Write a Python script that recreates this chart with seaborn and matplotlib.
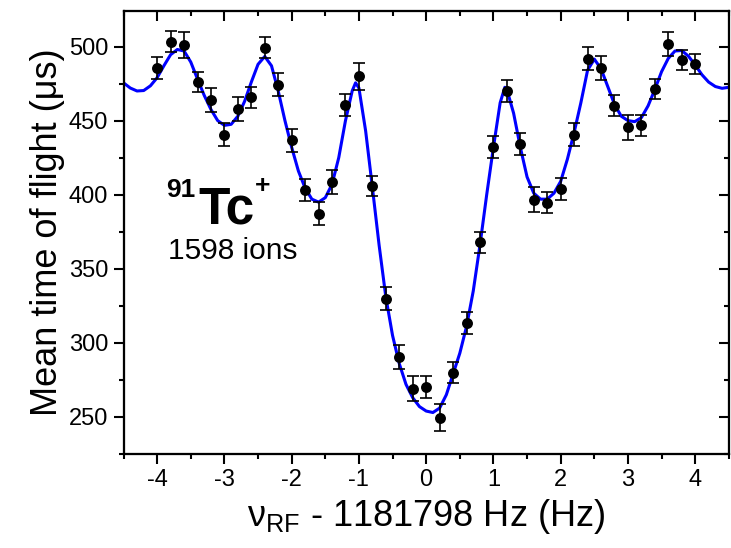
import numpy as np
import pandas as pd
import matplotlib
matplotlib.use('Agg')
import matplotlib.pyplot as plt
from matplotlib.ticker import MultipleLocator
import seaborn as sns

sns.set_style('ticks')
plt.rcParams['font.family'] = ['Liberation Sans', 'DejaVu Sans']
plt.rcParams['mathtext.fontset'] = 'custom'
plt.rcParams['mathtext.rm'] = 'Liberation Sans'
plt.rcParams['mathtext.bf'] = 'Liberation Sans:bold'
plt.rcParams['axes.unicode_minus'] = False
for k in ['text.color', 'axes.labelcolor', 'xtick.color', 'ytick.color', 'axes.edgecolor']:
    plt.rcParams[k] = 'black'

# measured data (frequency offset in Hz, mean TOF in us, error)
freq = [-4.0, -3.8, -3.6, -3.4, -3.2, -3.0, -2.8, -2.6, -2.4, -2.2,
        -2.0, -1.8, -1.6, -1.4, -1.2, -1.0, -0.8, -0.6, -0.4, -0.2,
        0.0, 0.2, 0.4, 0.6, 0.8, 1.0, 1.2, 1.4, 1.6, 1.8,
        2.0, 2.2, 2.4, 2.6, 2.8, 3.0, 3.2, 3.4, 3.6, 3.8, 4.0]
tof = [485.4, 503.2, 501.1, 476.2, 463.9, 440.5, 458.0, 465.6, 499.3, 474.2,
       436.7, 403.4, 387.3, 408.6, 460.5, 479.8, 405.7, 329.8, 290.7, 269.0,
       270.3, 249.6, 279.9, 313.6, 367.9, 432.2, 470.1, 434.4, 396.7, 394.5,
       404.1, 440.5, 491.7, 485.4, 460.1, 445.4, 446.8, 471.3, 501.8, 491.0, 488.3]
tof_err = [7.5, 7.2, 8.8, 6.7, 8.0, 7.6, 8.0, 7.0, 7.0, 7.9,
           7.9, 7.4, 7.5, 8.4, 7.3, 9.0, 6.7, 7.9, 8.2, 8.4,
           7.5, 9.0, 7.0, 7.5, 7.1, 7.1, 7.5, 7.3, 8.4, 7.0,
           7.5, 7.9, 7.7, 8.1, 7.2, 8.3, 7.0, 7.0, 8.2, 6.7, 6.9]

# fit curve
fit_x = [-4.5, -4.4, -4.3, -4.2, -4.1, -4.0, -3.9, -3.8, -3.7, -3.6,
         -3.5, -3.4, -3.3, -3.2, -3.1, -3.0, -2.9, -2.8, -2.7, -2.6,
         -2.5, -2.4, -2.3, -2.2, -2.1, -2.0, -1.9, -1.8, -1.7, -1.6,
         -1.5, -1.4, -1.3, -1.2, -1.1, -1.05, -1.0, -0.9, -0.8, -0.7,
         -0.6, -0.5, -0.4, -0.3, -0.2, -0.1, 0.0, 0.1, 0.2, 0.3,
         0.4, 0.5, 0.6, 0.7, 0.8, 0.9, 1.0, 1.1, 1.17, 1.2,
         1.3, 1.4, 1.5, 1.6, 1.7, 1.8, 1.9, 2.0, 2.1, 2.2,
         2.3, 2.4, 2.5, 2.6, 2.7, 2.8, 2.9, 3.0, 3.1, 3.2,
         3.3, 3.4, 3.5, 3.6, 3.7, 3.8, 3.9, 4.0, 4.1, 4.2,
         4.3, 4.4, 4.5]
fit_y = [475.5, 472.0, 470.0, 470.3, 473.5, 479.0, 487.0, 494.5, 498.0, 497.0,
         489.5, 478.0, 467.0, 457.5, 450.0, 446.8, 447.5, 453.0, 463.0, 476.0,
         488.0, 493.3, 487.0, 470.0, 450.0, 432.0, 416.0, 404.5, 397.0, 395.0,
         398.0, 407.0, 425.0, 450.0, 470.0, 475.5, 472.0, 443.0, 405.0, 366.0,
         331.0, 305.0, 286.0, 272.0, 263.0, 257.0, 254.0, 253.0, 256.0, 265.0,
         279.0, 293.0, 311.0, 335.0, 366.0, 400.0, 432.0, 462.0, 472.5, 471.0,
         455.0, 432.0, 412.0, 401.0, 397.0, 397.0, 401.0, 409.0, 424.0, 442.0,
         462.0, 484.0, 491.5, 485.0, 473.0, 461.0, 453.0, 450.0, 449.3, 452.0,
         460.0, 471.0, 483.0, 492.0, 497.0, 497.3, 493.5, 487.5, 481.0, 476.0,
         473.0, 471.8, 472.5]

df = pd.DataFrame({'freq': freq, 'tof': tof, 'err': tof_err})
fit = pd.DataFrame({'x': fit_x, 'y': fit_y})

fig, ax = plt.subplots(figsize=(7.31, 5.48), dpi=100)
fig.subplots_adjust(left=0.169, right=0.997, bottom=0.1715, top=0.980)

sns.lineplot(data=fit, x='x', y='y', ax=ax, color='#0000ff', lw=2.2, zorder=2)
ax.errorbar(df['freq'], df['tof'], yerr=df['err'], fmt='none', ecolor='black',
            elinewidth=1.2, capsize=4, capthick=1.2, zorder=3)
sns.scatterplot(data=df, x='freq', y='tof', ax=ax, color='black', s=62,
                edgecolor='black', linewidth=0, zorder=4)

xlim = (-4.5, 4.5)
ylim = (225, 524)
ax.set_xlim(*xlim)
ax.set_ylim(*ylim)
ax.xaxis.set_major_locator(MultipleLocator(1))
ax.xaxis.set_minor_locator(MultipleLocator(0.5))
ax.yaxis.set_major_locator(MultipleLocator(50))
ax.yaxis.set_minor_locator(MultipleLocator(25))

for sp in ax.spines.values():
    sp.set_linewidth(1.5)

ax.tick_params(which='both', direction='out', width=1.5, labelsize=17, pad=4)
ax.tick_params(which='major', length=7)
ax.tick_params(which='minor', length=3.5)

# top and right ticks point inward
axt = ax.twiny()
axt.set_xlim(*xlim)
axt.xaxis.set_major_locator(MultipleLocator(1))
axt.xaxis.set_minor_locator(MultipleLocator(0.5))
axt.tick_params(which='both', direction='in', width=1.5, labeltop=False)
axt.tick_params(which='major', length=7)
axt.tick_params(which='minor', length=3.5)
axr = ax.twinx()
axr.set_ylim(*ylim)
axr.yaxis.set_major_locator(MultipleLocator(50))
axr.yaxis.set_minor_locator(MultipleLocator(25))
axr.tick_params(which='both', direction='in', width=1.5, labelright=False)
axr.tick_params(which='major', length=7)
axr.tick_params(which='minor', length=3.5)
for a in (axt, axr):
    for sp in a.spines.values():
        sp.set_linewidth(1.5)

ax.set_xlabel('ν$_{\\mathrm{RF}}$ - 1181798 Hz (Hz)', fontsize=26, labelpad=4)
ax.set_ylabel('Mean time of flight (μs)', fontsize=26, labelpad=3)

ax.text(0.118, 0.580, '91', transform=ax.transAxes, fontsize=19,
        fontweight='bold', ha='right', va='baseline')
ax.text(0.123, 0.521, 'Tc', transform=ax.transAxes, fontsize=37,
        fontweight='bold', ha='left', va='baseline')
ax.text(0.217, 0.604, '+', transform=ax.transAxes, fontsize=19,
        fontweight='bold', ha='left', va='center')
ax.text(0.0735, 0.44, '1598 ions', transform=ax.transAxes, fontsize=21.5,
        ha='left', va='baseline')

fig.savefig('out.png', dpi=100)
